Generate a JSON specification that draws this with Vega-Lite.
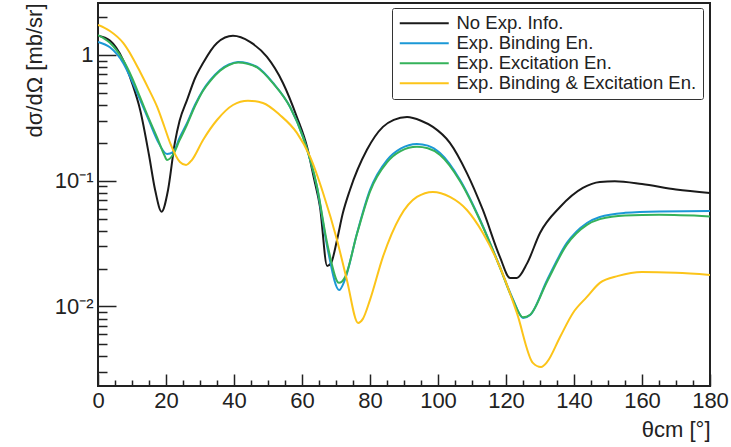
{
  "$schema": "https://vega.github.io/schema/vega-lite/v6.json",
  "width": 612,
  "height": 383,
  "autosize": {"type": "none"},
  "padding": {"left": 98, "top": 3, "right": 21, "bottom": 61},
  "background": "white",
  "config": {
    "font": "Liberation Sans",
    "view": {"stroke": "#222222", "strokeWidth": 2},
    "axis": {"domain": false, "grid": false, "labelFont": "Liberation Sans", "titleFont": "Liberation Sans", "labelColor": "#222222", "titleColor": "#222222", "tickColor": "#222222", "tickWidth": 1.5, "titleFontWeight": "normal"}
  },
  "datasets": {
    "curves": [
      {"t": 0, "v": 1.42, "s": "No Exp. Info."},
      {"t": 3.5, "v": 1.3, "s": "No Exp. Info."},
      {"t": 7.4, "v": 0.91, "s": "No Exp. Info."},
      {"t": 10, "v": 0.6, "s": "No Exp. Info."},
      {"t": 12.4, "v": 0.365, "s": "No Exp. Info."},
      {"t": 15, "v": 0.16, "s": "No Exp. Info."},
      {"t": 16.8, "v": 0.0844, "s": "No Exp. Info."},
      {"t": 18.7, "v": 0.0567, "s": "No Exp. Info."},
      {"t": 20.6, "v": 0.0844, "s": "No Exp. Info."},
      {"t": 22.6, "v": 0.2, "s": "No Exp. Info."},
      {"t": 24, "v": 0.3, "s": "No Exp. Info."},
      {"t": 26.2, "v": 0.439, "s": "No Exp. Info."},
      {"t": 28.5, "v": 0.65, "s": "No Exp. Info."},
      {"t": 30.9, "v": 0.864, "s": "No Exp. Info."},
      {"t": 35, "v": 1.246, "s": "No Exp. Info."},
      {"t": 39.7, "v": 1.42, "s": "No Exp. Info."},
      {"t": 44.7, "v": 1.27, "s": "No Exp. Info."},
      {"t": 49.7, "v": 0.964, "s": "No Exp. Info."},
      {"t": 54.4, "v": 0.599, "s": "No Exp. Info."},
      {"t": 58.5, "v": 0.321, "s": "No Exp. Info."},
      {"t": 61.5, "v": 0.185, "s": "No Exp. Info."},
      {"t": 63.5, "v": 0.105, "s": "No Exp. Info."},
      {"t": 65.3, "v": 0.0618, "s": "No Exp. Info."},
      {"t": 67.4, "v": 0.021, "s": "No Exp. Info."},
      {"t": 68.5, "v": 0.022, "s": "No Exp. Info."},
      {"t": 70.3, "v": 0.0338, "s": "No Exp. Info."},
      {"t": 72, "v": 0.055, "s": "No Exp. Info."},
      {"t": 74.1, "v": 0.0844, "s": "No Exp. Info."},
      {"t": 79.1, "v": 0.176, "s": "No Exp. Info."},
      {"t": 83.8, "v": 0.268, "s": "No Exp. Info."},
      {"t": 87, "v": 0.305, "s": "No Exp. Info."},
      {"t": 90.9, "v": 0.321, "s": "No Exp. Info."},
      {"t": 95, "v": 0.3, "s": "No Exp. Info."},
      {"t": 98.5, "v": 0.268, "s": "No Exp. Info."},
      {"t": 103.5, "v": 0.2, "s": "No Exp. Info."},
      {"t": 108.5, "v": 0.115, "s": "No Exp. Info."},
      {"t": 113.2, "v": 0.0585, "s": "No Exp. Info."},
      {"t": 118.2, "v": 0.0248, "s": "No Exp. Info."},
      {"t": 121.2, "v": 0.01685, "s": "No Exp. Info."},
      {"t": 123.2, "v": 0.01685, "s": "No Exp. Info."},
      {"t": 126.2, "v": 0.022, "s": "No Exp. Info."},
      {"t": 130, "v": 0.0384, "s": "No Exp. Info."},
      {"t": 135.9, "v": 0.0618, "s": "No Exp. Info."},
      {"t": 142.6, "v": 0.0876, "s": "No Exp. Info."},
      {"t": 147.6, "v": 0.0978, "s": "No Exp. Info."},
      {"t": 152, "v": 0.099, "s": "No Exp. Info."},
      {"t": 160, "v": 0.094, "s": "No Exp. Info."},
      {"t": 170, "v": 0.085, "s": "No Exp. Info."},
      {"t": 180, "v": 0.08, "s": "No Exp. Info."},

      {"t": 0, "v": 1.27, "s": "Exp. Binding En."},
      {"t": 3.5, "v": 1.15, "s": "Exp. Binding En."},
      {"t": 7.4, "v": 0.864, "s": "Exp. Binding En."},
      {"t": 10, "v": 0.62, "s": "Exp. Binding En."},
      {"t": 12.4, "v": 0.439, "s": "Exp. Binding En."},
      {"t": 15, "v": 0.3, "s": "Exp. Binding En."},
      {"t": 17.4, "v": 0.211, "s": "Exp. Binding En."},
      {"t": 20.3, "v": 0.163, "s": "Exp. Binding En."},
      {"t": 22.1, "v": 0.169, "s": "Exp. Binding En."},
      {"t": 24, "v": 0.22, "s": "Exp. Binding En."},
      {"t": 26.2, "v": 0.288, "s": "Exp. Binding En."},
      {"t": 28.5, "v": 0.4, "s": "Exp. Binding En."},
      {"t": 30.9, "v": 0.527, "s": "Exp. Binding En."},
      {"t": 33, "v": 0.63, "s": "Exp. Binding En."},
      {"t": 35.9, "v": 0.76, "s": "Exp. Binding En."},
      {"t": 38.5, "v": 0.84, "s": "Exp. Binding En."},
      {"t": 41.2, "v": 0.88, "s": "Exp. Binding En."},
      {"t": 44, "v": 0.86, "s": "Exp. Binding En."},
      {"t": 46.8, "v": 0.803, "s": "Exp. Binding En."},
      {"t": 51.5, "v": 0.599, "s": "Exp. Binding En."},
      {"t": 56.5, "v": 0.386, "s": "Exp. Binding En."},
      {"t": 60.3, "v": 0.223, "s": "Exp. Binding En."},
      {"t": 64.4, "v": 0.0892, "s": "Exp. Binding En."},
      {"t": 67.6, "v": 0.0281, "s": "Exp. Binding En."},
      {"t": 70.9, "v": 0.0135, "s": "Exp. Binding En."},
      {"t": 72.6, "v": 0.01625, "s": "Exp. Binding En."},
      {"t": 76.2, "v": 0.0384, "s": "Exp. Binding En."},
      {"t": 80, "v": 0.0844, "s": "Exp. Binding En."},
      {"t": 85, "v": 0.146, "s": "Exp. Binding En."},
      {"t": 89, "v": 0.18, "s": "Exp. Binding En."},
      {"t": 93.8, "v": 0.196, "s": "Exp. Binding En."},
      {"t": 97, "v": 0.19, "s": "Exp. Binding En."},
      {"t": 100.6, "v": 0.166, "s": "Exp. Binding En."},
      {"t": 106.5, "v": 0.1014, "s": "Exp. Binding En."},
      {"t": 112.4, "v": 0.0487, "s": "Exp. Binding En."},
      {"t": 118.2, "v": 0.0206, "s": "Exp. Binding En."},
      {"t": 122, "v": 0.0115, "s": "Exp. Binding En."},
      {"t": 125, "v": 0.0081, "s": "Exp. Binding En."},
      {"t": 127.1, "v": 0.00856, "s": "Exp. Binding En."},
      {"t": 132.1, "v": 0.01625, "s": "Exp. Binding En."},
      {"t": 137.9, "v": 0.032, "s": "Exp. Binding En."},
      {"t": 143.8, "v": 0.0461, "s": "Exp. Binding En."},
      {"t": 147.6, "v": 0.0515, "s": "Exp. Binding En."},
      {"t": 155, "v": 0.0555, "s": "Exp. Binding En."},
      {"t": 165, "v": 0.057, "s": "Exp. Binding En."},
      {"t": 180, "v": 0.0575, "s": "Exp. Binding En."},

      {"t": 0, "v": 1.44, "s": "Exp. Excitation En."},
      {"t": 3.5, "v": 1.25, "s": "Exp. Excitation En."},
      {"t": 7.4, "v": 0.91, "s": "Exp. Excitation En."},
      {"t": 10, "v": 0.66, "s": "Exp. Excitation En."},
      {"t": 12.4, "v": 0.46, "s": "Exp. Excitation En."},
      {"t": 15, "v": 0.31, "s": "Exp. Excitation En."},
      {"t": 17.4, "v": 0.22, "s": "Exp. Excitation En."},
      {"t": 19.5, "v": 0.16, "s": "Exp. Excitation En."},
      {"t": 20.3, "v": 0.146, "s": "Exp. Excitation En."},
      {"t": 22, "v": 0.16, "s": "Exp. Excitation En."},
      {"t": 24, "v": 0.21, "s": "Exp. Excitation En."},
      {"t": 26.2, "v": 0.28, "s": "Exp. Excitation En."},
      {"t": 28.5, "v": 0.39, "s": "Exp. Excitation En."},
      {"t": 30.9, "v": 0.52, "s": "Exp. Excitation En."},
      {"t": 33, "v": 0.62, "s": "Exp. Excitation En."},
      {"t": 35.9, "v": 0.75, "s": "Exp. Excitation En."},
      {"t": 38.5, "v": 0.83, "s": "Exp. Excitation En."},
      {"t": 41.2, "v": 0.87, "s": "Exp. Excitation En."},
      {"t": 44, "v": 0.85, "s": "Exp. Excitation En."},
      {"t": 46.8, "v": 0.795, "s": "Exp. Excitation En."},
      {"t": 51.5, "v": 0.595, "s": "Exp. Excitation En."},
      {"t": 56.5, "v": 0.385, "s": "Exp. Excitation En."},
      {"t": 60.3, "v": 0.222, "s": "Exp. Excitation En."},
      {"t": 64.4, "v": 0.09, "s": "Exp. Excitation En."},
      {"t": 67.6, "v": 0.03, "s": "Exp. Excitation En."},
      {"t": 70.9, "v": 0.0154, "s": "Exp. Excitation En."},
      {"t": 72.6, "v": 0.017, "s": "Exp. Excitation En."},
      {"t": 76.2, "v": 0.038, "s": "Exp. Excitation En."},
      {"t": 80, "v": 0.082, "s": "Exp. Excitation En."},
      {"t": 85, "v": 0.14, "s": "Exp. Excitation En."},
      {"t": 89, "v": 0.172, "s": "Exp. Excitation En."},
      {"t": 93.8, "v": 0.186, "s": "Exp. Excitation En."},
      {"t": 97, "v": 0.181, "s": "Exp. Excitation En."},
      {"t": 100.6, "v": 0.16, "s": "Exp. Excitation En."},
      {"t": 106.5, "v": 0.099, "s": "Exp. Excitation En."},
      {"t": 112.4, "v": 0.048, "s": "Exp. Excitation En."},
      {"t": 118.2, "v": 0.0205, "s": "Exp. Excitation En."},
      {"t": 122, "v": 0.0113, "s": "Exp. Excitation En."},
      {"t": 125, "v": 0.0082, "s": "Exp. Excitation En."},
      {"t": 127.1, "v": 0.0086, "s": "Exp. Excitation En."},
      {"t": 132.1, "v": 0.0158, "s": "Exp. Excitation En."},
      {"t": 137.9, "v": 0.031, "s": "Exp. Excitation En."},
      {"t": 143.8, "v": 0.0445, "s": "Exp. Excitation En."},
      {"t": 147.6, "v": 0.0495, "s": "Exp. Excitation En."},
      {"t": 155, "v": 0.053, "s": "Exp. Excitation En."},
      {"t": 165, "v": 0.0535, "s": "Exp. Excitation En."},
      {"t": 180, "v": 0.052, "s": "Exp. Excitation En."},

      {"t": 0, "v": 1.73, "s": "Exp. Binding & Excitation En."},
      {"t": 3.5, "v": 1.55, "s": "Exp. Binding & Excitation En."},
      {"t": 7.4, "v": 1.246, "s": "Exp. Binding & Excitation En."},
      {"t": 10, "v": 0.97, "s": "Exp. Binding & Excitation En."},
      {"t": 12.4, "v": 0.732, "s": "Exp. Binding & Excitation En."},
      {"t": 15, "v": 0.53, "s": "Exp. Binding & Excitation En."},
      {"t": 17.4, "v": 0.386, "s": "Exp. Binding & Excitation En."},
      {"t": 19.5, "v": 0.27, "s": "Exp. Binding & Excitation En."},
      {"t": 21.2, "v": 0.2, "s": "Exp. Binding & Excitation En."},
      {"t": 24.1, "v": 0.141, "s": "Exp. Binding & Excitation En."},
      {"t": 25.9, "v": 0.1334, "s": "Exp. Binding & Excitation En."},
      {"t": 27.6, "v": 0.146, "s": "Exp. Binding & Excitation En."},
      {"t": 30.9, "v": 0.211, "s": "Exp. Binding & Excitation En."},
      {"t": 35, "v": 0.304, "s": "Exp. Binding & Excitation En."},
      {"t": 39.7, "v": 0.4, "s": "Exp. Binding & Excitation En."},
      {"t": 44.1, "v": 0.433, "s": "Exp. Binding & Excitation En."},
      {"t": 48.5, "v": 0.415, "s": "Exp. Binding & Excitation En."},
      {"t": 53.5, "v": 0.333, "s": "Exp. Binding & Excitation En."},
      {"t": 58.5, "v": 0.24, "s": "Exp. Binding & Excitation En."},
      {"t": 62.4, "v": 0.1545, "s": "Exp. Binding & Excitation En."},
      {"t": 66.2, "v": 0.0799, "s": "Exp. Binding & Excitation En."},
      {"t": 70.3, "v": 0.0338, "s": "Exp. Binding & Excitation En."},
      {"t": 73.2, "v": 0.01625, "s": "Exp. Binding & Excitation En."},
      {"t": 76.5, "v": 0.0074, "s": "Exp. Binding & Excitation En."},
      {"t": 77.9, "v": 0.00796, "s": "Exp. Binding & Excitation En."},
      {"t": 80, "v": 0.01127, "s": "Exp. Binding & Excitation En."},
      {"t": 83.8, "v": 0.0248, "s": "Exp. Binding & Excitation En."},
      {"t": 88.8, "v": 0.0515, "s": "Exp. Binding & Excitation En."},
      {"t": 93.8, "v": 0.0743, "s": "Exp. Binding & Excitation En."},
      {"t": 98.5, "v": 0.0814, "s": "Exp. Binding & Excitation En."},
      {"t": 103.5, "v": 0.0743, "s": "Exp. Binding & Excitation En."},
      {"t": 108.5, "v": 0.0585, "s": "Exp. Binding & Excitation En."},
      {"t": 113.2, "v": 0.0384, "s": "Exp. Binding & Excitation En."},
      {"t": 118.2, "v": 0.0206, "s": "Exp. Binding & Excitation En."},
      {"t": 123.2, "v": 0.00888, "s": "Exp. Binding & Excitation En."},
      {"t": 127.9, "v": 0.00356, "s": "Exp. Binding & Excitation En."},
      {"t": 130.3, "v": 0.0033, "s": "Exp. Binding & Excitation En."},
      {"t": 132.1, "v": 0.00362, "s": "Exp. Binding & Excitation En."},
      {"t": 135.9, "v": 0.00572, "s": "Exp. Binding & Excitation En."},
      {"t": 139.7, "v": 0.00888, "s": "Exp. Binding & Excitation En."},
      {"t": 143.8, "v": 0.0119, "s": "Exp. Binding & Excitation En."},
      {"t": 147.6, "v": 0.0154, "s": "Exp. Binding & Excitation En."},
      {"t": 153, "v": 0.0175, "s": "Exp. Binding & Excitation En."},
      {"t": 160, "v": 0.0188, "s": "Exp. Binding & Excitation En."},
      {"t": 170, "v": 0.0185, "s": "Exp. Binding & Excitation En."},
      {"t": 180, "v": 0.0178, "s": "Exp. Binding & Excitation En."}
    ]
  },
  "data": {"name": "curves"},
  "resolve": {"axis": {"x": "independent", "y": "independent"}},
  "layer": [
    {
      "mark": {"type": "line", "strokeWidth": 2, "clip": true, "interpolate": "monotone"},
      "encoding": {
        "x": {
          "field": "t", "type": "quantitative",
          "scale": {"domain": [0, 180], "nice": false, "zero": false},
          "axis": {
            "orient": "bottom",
            "title": "θcm [°]", "titleAnchor": "end", "titleFontSize": 22, "titlePadding": 8,
            "values": [0,20,40,60,80,100,120,140,160,180],
            "labelFontSize": 22, "labelPadding": 16, "labelFlush": false, "labelOverlap": false,
            "tickSize": -12
          }
        },
        "y": {
          "field": "v", "type": "quantitative",
          "scale": {"type": "log", "domain": [0.00233, 2.59], "nice": false},
          "axis": {
            "orient": "left",
            "title": "dσ/dΩ [mb/sr]", "titleAnchor": "end", "titleFontSize": 22, "titlePadding": 8,
            "values": [0.01, 0.1, 1],
            "labelExpr": "datum.value == 1 ? '1' : datum.value == 0.1 ? '10⁻¹' : '10⁻²'",
            "labelFontSize": 22, "labelPadding": 23, "labelFlush": false, "labelOverlap": false,
            "tickSize": -18
          }
        },
        "color": {
          "field": "s", "type": "nominal",
          "scale": {
            "domain": ["No Exp. Info.", "Exp. Binding En.", "Exp. Excitation En.", "Exp. Binding & Excitation En."],
            "range": ["#1a1a1a", "#1b98d6", "#35b25a", "#fcc419"]
          },
          "legend": {
            "title": null, "orient": "none", "legendX": 294, "legendY": 5,
            "symbolType": "M-4,0H4", "symbolSize": 150, "symbolStrokeWidth": 2, "symbolOffset": 17,
            "labelFontSize": 18.5, "labelFont": "Liberation Sans", "labelColor": "#222222",
            "strokeColor": "#333333", "fillColor": "white", "cornerRadius": 2, "padding": 6,
            "rowPadding": 1, "labelOffset": 23, "labelLimit": 400
          }
        }
      }
    },
    {
      "mark": {"type": "line", "strokeOpacity": 0, "clip": true},
      "encoding": {
        "x": {
          "field": "t", "type": "quantitative",
          "axis": {
            "orient": "bottom", "title": null, "labels": false,
            "values": [5,10,15,25,30,35,45,50,55,65,70,75,85,90,95,105,110,115,125,130,135,145,150,155,165,170,175],
            "tickSize": -6
          }
        },
        "y": {
          "field": "v", "type": "quantitative",
          "axis": {
            "orient": "left", "title": null, "labels": false,
            "values": [0.003,0.004,0.005,0.006,0.007,0.008,0.009,0.02,0.03,0.04,0.05,0.06,0.07,0.08,0.09,0.2,0.3,0.4,0.5,0.6,0.7,0.8,0.9,2],
            "tickSize": -9
          }
        },
        "detail": {"field": "s"}
      }
    }
  ]
}
